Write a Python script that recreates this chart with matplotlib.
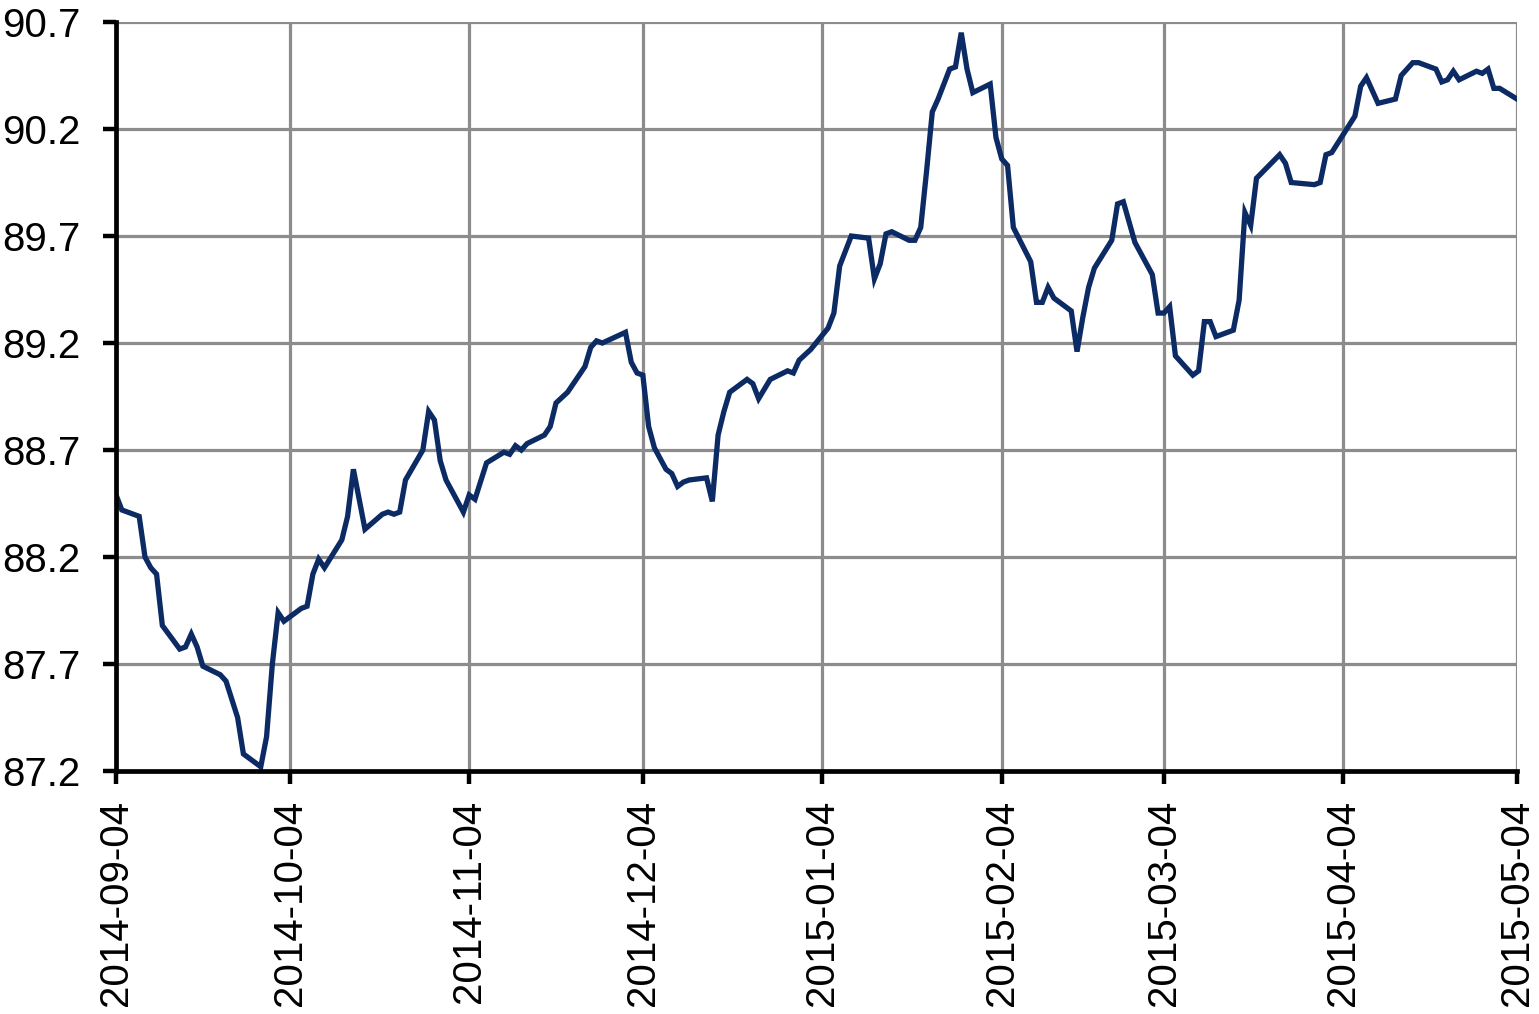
import matplotlib
matplotlib.use("Agg")
import matplotlib.pyplot as plt
import matplotlib.dates as mdates
import pandas as pd

dates = [
    "2014-09-04", "2014-09-05", "2014-09-08", "2014-09-09", "2014-09-10", "2014-09-11",
    "2014-09-12", "2014-09-15", "2014-09-16", "2014-09-17", "2014-09-18", "2014-09-19",
    "2014-09-22", "2014-09-23", "2014-09-25", "2014-09-26", "2014-09-29", "2014-09-30",
    "2014-10-01", "2014-10-02", "2014-10-03", "2014-10-06", "2014-10-07", "2014-10-08",
    "2014-10-09", "2014-10-10", "2014-10-13", "2014-10-14", "2014-10-15", "2014-10-17",
    "2014-10-20", "2014-10-21", "2014-10-22", "2014-10-23", "2014-10-24", "2014-10-27",
    "2014-10-28", "2014-10-29", "2014-10-30", "2014-10-31", "2014-11-03", "2014-11-04",
    "2014-11-05", "2014-11-07", "2014-11-10", "2014-11-11", "2014-11-12", "2014-11-13",
    "2014-11-14", "2014-11-17", "2014-11-18", "2014-11-19", "2014-11-21", "2014-11-24",
    "2014-11-25", "2014-11-26", "2014-11-27", "2014-12-01", "2014-12-02", "2014-12-03",
    "2014-12-04", "2014-12-05", "2014-12-06", "2014-12-08", "2014-12-09", "2014-12-10",
    "2014-12-11", "2014-12-12", "2014-12-15", "2014-12-16", "2014-12-17", "2014-12-18",
    "2014-12-19", "2014-12-22", "2014-12-23", "2014-12-24", "2014-12-26", "2014-12-29",
    "2014-12-30", "2014-12-31", "2015-01-02", "2015-01-05", "2015-01-06", "2015-01-07",
    "2015-01-08", "2015-01-09", "2015-01-12", "2015-01-13", "2015-01-14", "2015-01-15",
    "2015-01-16", "2015-01-19", "2015-01-20", "2015-01-21", "2015-01-22", "2015-01-23",
    "2015-01-24", "2015-01-26", "2015-01-27", "2015-01-28", "2015-01-29", "2015-01-30",
    "2015-02-02", "2015-02-03", "2015-02-04", "2015-02-05", "2015-02-06", "2015-02-09",
    "2015-02-10", "2015-02-11", "2015-02-12", "2015-02-13", "2015-02-16", "2015-02-17",
    "2015-02-18", "2015-02-19", "2015-02-20", "2015-02-23", "2015-02-24", "2015-02-25",
    "2015-02-27", "2015-03-02", "2015-03-03", "2015-03-04", "2015-03-05", "2015-03-06",
    "2015-03-09", "2015-03-10", "2015-03-11", "2015-03-12", "2015-03-13", "2015-03-16",
    "2015-03-17", "2015-03-18", "2015-03-19", "2015-03-20", "2015-03-24", "2015-03-25",
    "2015-03-26", "2015-03-30", "2015-03-31", "2015-04-01", "2015-04-02", "2015-04-06",
    "2015-04-07", "2015-04-08", "2015-04-10", "2015-04-13", "2015-04-14", "2015-04-16",
    "2015-04-17", "2015-04-20", "2015-04-21", "2015-04-22", "2015-04-23", "2015-04-24",
    "2015-04-27", "2015-04-28", "2015-04-29", "2015-04-30", "2015-05-01", "2015-05-04",
]

values = [
    88.49, 88.42, 88.39, 88.20, 88.15, 88.12,
    87.88, 87.77, 87.78, 87.84, 87.78, 87.69,
    87.65, 87.62, 87.45, 87.28, 87.22, 87.36,
    87.70, 87.94, 87.90, 87.96, 87.97, 88.12,
    88.19, 88.15, 88.28, 88.39, 88.61, 88.33,
    88.40, 88.41, 88.40, 88.41, 88.56, 88.70,
    88.88, 88.84, 88.65, 88.56, 88.41, 88.49,
    88.47, 88.64, 88.69, 88.68, 88.72, 88.70,
    88.73, 88.77, 88.81, 88.92, 88.97, 89.09,
    89.18, 89.21, 89.20, 89.25, 89.11, 89.06,
    89.05, 88.81, 88.71, 88.61, 88.59, 88.53,
    88.55, 88.56, 88.57, 88.46, 88.77, 88.88,
    88.97, 89.03, 89.01, 88.94, 89.03, 89.07,
    89.06, 89.12, 89.17, 89.27, 89.34, 89.56,
    89.63, 89.70, 89.69, 89.50, 89.57, 89.71,
    89.72, 89.68, 89.68, 89.74, 90.00, 90.28,
    90.34, 90.48, 90.49, 90.65, 90.48, 90.37,
    90.41, 90.16, 90.06, 90.03, 89.74, 89.58,
    89.39, 89.39, 89.46, 89.41, 89.35, 89.16,
    89.32, 89.46, 89.55, 89.68, 89.85, 89.86,
    89.67, 89.52, 89.34, 89.34, 89.37, 89.14,
    89.05, 89.07, 89.30, 89.30, 89.23, 89.26,
    89.40, 89.81, 89.75, 89.97, 90.08, 90.04,
    89.95, 89.94, 89.95, 90.08, 90.09, 90.26,
    90.40, 90.44, 90.32, 90.34, 90.45, 90.51,
    90.51, 90.48, 90.42, 90.43, 90.47, 90.43,
    90.47, 90.46, 90.48, 90.39, 90.39, 90.34,
]

x_ticks = ["2014-09-04", "2014-10-04", "2014-11-04", "2014-12-04", "2015-01-04",
           "2015-02-04", "2015-03-04", "2015-04-04", "2015-05-04"]
y_ticks = [87.2, 87.7, 88.2, 88.7, 89.2, 89.7, 90.2, 90.7]

plt.rcParams['font.family'] = ['Liberation Sans', 'DejaVu Sans']

fig = plt.figure(figsize=(15.39, 10.14), dpi=100)
ax = fig.add_axes([0.0754, 0.2396, 0.9103, 0.7387])

x = pd.to_datetime(dates)
ax.plot(x, values, color='#0c2a63', linewidth=3.8, zorder=3, solid_joinstyle='miter')

xt = pd.to_datetime(x_ticks)
ax.set_xlim(xt[0], xt[-1])
ax.set_ylim(y_ticks[0], y_ticks[-1])
ax.set_xticks(xt)
ax.set_xticklabels(x_ticks, rotation=90)
ax.set_yticks(y_ticks)
ax.set_yticklabels([f"{v:.1f}" for v in y_ticks])

ax.grid(True, color='#8c8c8c', linewidth=2.3, zorder=1)
ax.set_axisbelow(True)
for s in ['top', 'right']:
    ax.spines[s].set_visible(False)
for s in ['left', 'bottom']:
    ax.spines[s].set_linewidth(3.4)
    ax.spines[s].set_color('black')
    ax.spines[s].set_zorder(4)

ax.tick_params(axis='both', direction='out', length=9.5, width=3.2, color='black',
               labelsize=29)
ax.tick_params(axis='y', pad=16)
ax.tick_params(axis='x', pad=11)

fig.savefig("out.png", dpi=100)
